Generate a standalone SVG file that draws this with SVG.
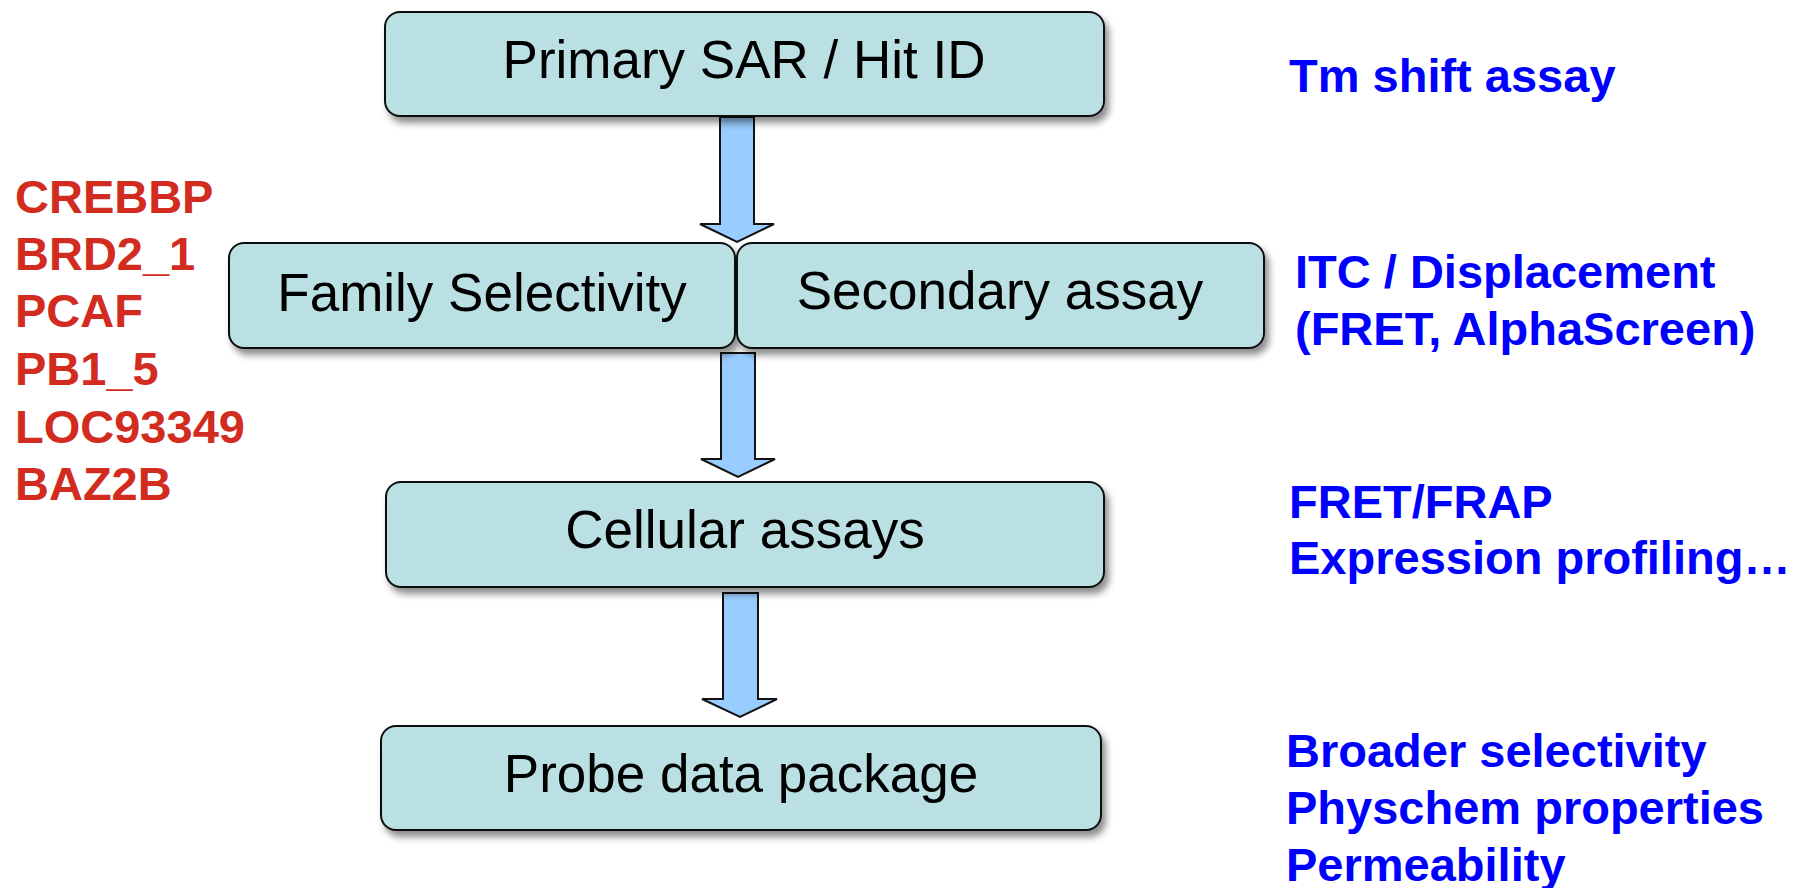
<svg xmlns="http://www.w3.org/2000/svg" width="1800" height="888" viewBox="0 0 1800 888">
  <defs>
    <filter id="shadow" x="-10%" y="-20%" width="130%" height="160%">
      <feDropShadow dx="4" dy="6" stdDeviation="3.5" flood-color="#000" flood-opacity="0.45"/>
    </filter>
  </defs>
  <style>
    .box { fill: #BAE0E3; stroke: #111; stroke-width: 2; filter: url(#shadow); }
    .lbl { font-family: "Liberation Sans", Arial, sans-serif; font-size: 53px; fill: #000; text-anchor: middle; }
    .arrow { fill: #99CCFF; stroke: #111; stroke-width: 2; stroke-linejoin: miter; }
    .red { font-family: "Liberation Sans", Arial, sans-serif; font-weight: bold; font-size: 47px; fill: #D22B1F; }
    .blue { font-family: "Liberation Sans", Arial, sans-serif; font-weight: bold; font-size: 47px; fill: #0000FF; }
  </style>
  <rect width="1800" height="888" fill="#fff"/>

  <g id="connectors">
    <path class="arrow" d="M720,117 H754 V224 H774 L737,242 L700,224 H720 Z"/>
    <path class="arrow" d="M721,353 H755 V459 H775 L738,477 L701,459 H721 Z"/>
    <path class="arrow" d="M723,593 H758 V699 H777 L740,717 L702,699 H723 Z"/>
  </g>

  <g id="node-primary">
    <rect class="box" x="385" y="12" width="719" height="104" rx="15"/>
    <text class="lbl" x="744" y="78">Primary SAR / Hit ID</text>
  </g>
  <g id="node-family">
    <rect class="box" x="229" y="243" width="506" height="105" rx="15"/>
    <text class="lbl" x="482" y="311">Family Selectivity</text>
  </g>
  <g id="node-secondary">
    <rect class="box" x="737" y="243" width="527" height="105" rx="15"/>
    <text class="lbl" x="1000" y="309">Secondary assay</text>
  </g>
  <g id="node-cellular">
    <rect class="box" x="386" y="482" width="718" height="105" rx="15"/>
    <text class="lbl" x="745" y="548">Cellular assays</text>
  </g>
  <g id="node-probe">
    <rect class="box" x="381" y="726" width="720" height="104" rx="15"/>
    <text class="lbl" x="741" y="792">Probe data package</text>
  </g>

  <g id="targets">
    <text class="red" x="15" y="213">CREBBP</text>
    <text class="red" x="15" y="270">BRD2_1</text>
    <text class="red" x="15" y="327">PCAF</text>
    <text class="red" x="15" y="385">PB1_5</text>
    <text class="red" x="15" y="443">LOC93349</text>
    <text class="red" x="15" y="500">BAZ2B</text>
  </g>

  <g id="assays">
    <text class="blue" x="1289" y="92">Tm shift assay</text>
    <text class="blue" x="1295" y="288">ITC / Displacement</text>
    <text class="blue" x="1295" y="345">(FRET, AlphaScreen)</text>
    <text class="blue" x="1289" y="518">FRET/FRAP</text>
    <text class="blue" x="1289" y="574">Expression profiling…</text>
    <text class="blue" x="1286" y="767">Broader selectivity</text>
    <text class="blue" x="1286" y="824">Physchem properties</text>
    <text class="blue" x="1286" y="881">Permeability</text>
  </g>
</svg>
